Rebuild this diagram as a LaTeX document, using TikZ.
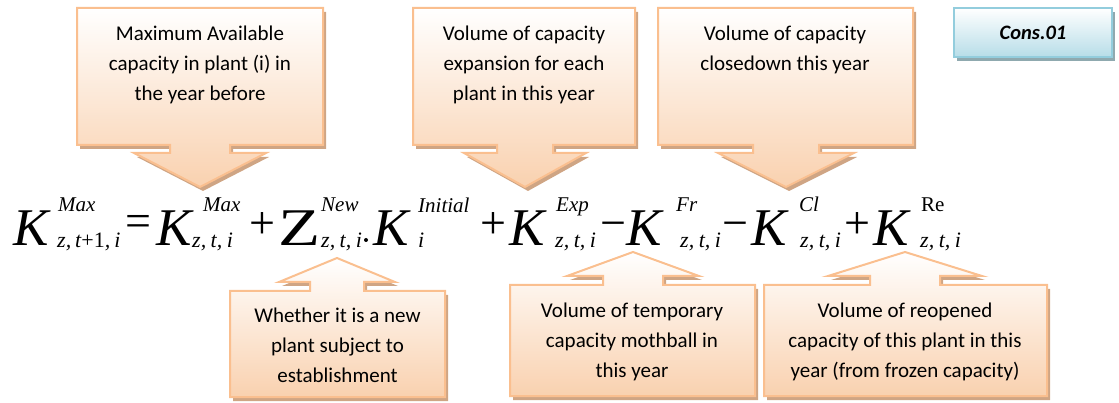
\documentclass[tikz,border=0pt]{standalone}
\usepackage{fontspec}
\usepackage{graphicx}
\setmainfont{Carlito}
\newfontfamily\eqfont{Liberation Serif}
\definecolor{peachline}{HTML}{FABF8F}
\definecolor{peachfill}{HTML}{F9D1AF}
\definecolor{peachshadow}{HTML}{CFA584}
\definecolor{blueline}{HTML}{93CDDD}
\definecolor{bluefill}{HTML}{B7DDE8}
\definecolor{blueshadow}{HTML}{8FA9AF}
\tikzset{
  callfill/.style={draw=peachline, line width=2pt, top color=white, bottom color=peachfill, line join=miter},
  callshadow/.style={fill=peachshadow},
  calltext/.style={align=center, inner sep=0pt, font=\fontsize{21}{30}\selectfont, text=black},
  eqK/.style={anchor=base west, inner sep=0pt, font=\eqfont\itshape\fontsize{53}{53}\selectfont},
  eqS/.style={anchor=base west, inner sep=0pt, font=\eqfont\itshape\fontsize{21}{21}\selectfont},
  eqB/.style={anchor=base west, inner sep=0pt, font=\eqfont\itshape\fontsize{22}{22}\selectfont},
  eqU/.style={anchor=base west, inner sep=0pt, font=\eqfont\fontsize{21}{21}\selectfont},
  eqOp/.style={anchor=center, inner sep=0pt, font=\eqfont\fontsize{46}{46}\selectfont},
}
\newcommand\zti{z,\kern4.5pt t,\kern4.5pt i}
% #1 L, #2 R, #3 T, #4 B, #5 cx, #6 stem half, #7 wing half, #8 wing y, #9 tip y
\newcommand\CalloutDown[9]{%
  \fill[callshadow, shift={(3,4)}] (#1,#3) -- (#2,#3) -- (#2,#4) -- (#5+#6,#4) -- (#5+#6,#8) -- (#5+#7,#8) -- (#5,#9) -- (#5-#7,#8) -- (#5-#6,#8) -- (#5-#6,#4) -- (#1,#4) -- cycle;
  \path[callfill] (#1,#3) -- (#2,#3) -- (#2,#4) -- (#5+#6,#4) -- (#5+#6,#8) -- (#5+#7,#8) -- (#5,#9) -- (#5-#7,#8) -- (#5-#6,#8) -- (#5-#6,#4) -- (#1,#4) -- cycle;
}
\newcommand\CalloutUp[9]{%
  \fill[callshadow, shift={(3,4)}] (#1,#3) -- (#5-#6,#3) -- (#5-#6,#8) -- (#5-#7,#8) -- (#5,#9) -- (#5+#7,#8) -- (#5+#6,#8) -- (#5+#6,#3) -- (#2,#3) -- (#2,#4) -- (#1,#4) -- cycle;
  \path[callfill] (#1,#3) -- (#5-#6,#3) -- (#5-#6,#8) -- (#5-#7,#8) -- (#5,#9) -- (#5+#7,#8) -- (#5+#6,#8) -- (#5+#6,#3) -- (#2,#3) -- (#2,#4) -- (#1,#4) -- cycle;
}
\begin{document}
\begin{tikzpicture}[x=1pt, y=-1pt]
\useasboundingbox (0,0) rectangle (1119,403);
% top callouts
\CalloutDown{77}{323}{8}{145}{200}{30}{66}{153}{187}
\CalloutDown{413}{635}{8}{145}{525}{28}{61}{153}{187}
\CalloutDown{658}{913}{8}{145}{786}{33}{68}{153}{187}
% bottom callouts
\CalloutUp{230}{445}{291}{397}{337}{27}{58}{282}{258}
\CalloutUp{510}{755}{285}{396}{633}{30}{66}{276}{252}
\CalloutUp{764}{1047}{285}{396}{905}{35}{77}{276}{252}
% Cons.01 box
\fill[blueshadow] (957,12) rectangle (1115,61);
\path[draw=blueline, line width=2pt, top color=white, bottom color=bluefill] (954,8) rectangle (1112,57);
\node[font=\fontsize{20.5}{24}\selectfont\bfseries\itshape, inner sep=0pt] (cons) at (1033,33) {Cons.01};
% callout texts
\node[calltext] (t1) at (200,64.5) {Maximum Available\\capacity in plant (i) in\\the year before};
\node[calltext] (t2) at (524,64.5) {Volume of capacity\\expansion for each\\plant in this year};
\node[calltext] (t3) at (785,49.5) {Volume of capacity\\closedown this year};
\node[calltext] (t4) at (337.5,345.5) {Whether it is a new\\plant subject to\\establishment};
\node[calltext] (t5) at (632,341.5) {Volume of temporary\\capacity mothball in\\this year};
\node[calltext] (t6) at (905,341.5) {Volume of reopened\\capacity of this plant in this\\year (from frozen capacity)};
% equation
\node[eqK] (k1) at (13,246) {K};
\node[eqS] (k1sup) at (58,212) {Max};
\node[eqB] (k1sub) at (57,248) {z,\kern4pt t{\upshape +1},\kern4pt i};
\node[eqOp] (eq) at (138,226) {=};
\node[eqK] (k2) at (156,246) {K};
\node[eqS] (k2sup) at (203,212) {Max};
\node[eqB] (k2sub) at (192,248) {\zti};
\node[eqOp] (p1) at (262,226) {+};
\node[eqK] (z) at (278,246) {\upshape\scalebox{1.3}[1]{Z}};
\node[eqS] (zsup) at (321,212) {New};
\node[eqB] (zsub) at (321,248) {\zti};
\fill (366pt,-240pt) circle[radius=2pt];
\node[eqK] (k3) at (373,246) {K};
\node[eqS] (k3sup) at (418,213) {Initial};
\node[eqB] (k3sub) at (418,248) {i};
\node[eqOp] (p2) at (493,226) {+};
\node[eqK] (k4) at (509,246) {K};
\node[eqS] (k4sup) at (556,212) {Exp};
\node[eqB] (k4sub) at (555,248) {\zti};
\node[eqOp] (m1) at (613,230) {−};
\node[eqK] (k5) at (626,246) {K};
\node[eqS] (k5sup) at (676,212) {Fr};
\node[eqB] (k5sub) at (680,248) {\zti};
\node[eqOp] (m2) at (735,230) {−};
\node[eqK] (k6) at (751,246) {K};
\node[eqS] (k6sup) at (799,212) {Cl};
\node[eqB] (k6sub) at (800,248) {\zti};
\node[eqOp] (p3) at (857,226) {+};
\node[eqK] (k7) at (873,246) {K};
\node[eqU] (k7sup) at (921,212) {Re};
\node[eqB] (k7sub) at (920,248) {\zti};
\end{tikzpicture}
\end{document}
